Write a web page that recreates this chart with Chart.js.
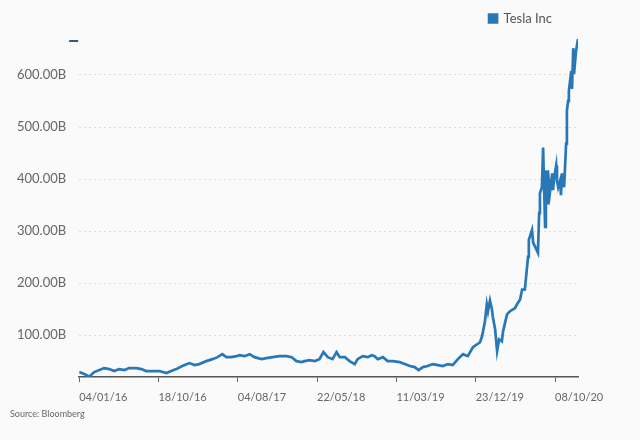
<!DOCTYPE html>
<html><head><meta charset="utf-8">
<script src="https://cdn.jsdelivr.net/npm/chart.js@4.4.1/dist/chart.umd.min.js"></script>
<style>html,body{margin:0;padding:0;background:#fafafa;}#wrap{width:640px;height:440px;position:relative;}</style>
</head><body><div id="wrap"><canvas id="c"></canvas></div>
<script>
const seriesName = 'Tesla Inc';
const sourceText = 'Source: Bloomberg';
const tradingDay = [0,13,25,38,51,63,76,88,101,114,126,144,157,169,184,202,220,232,245,260,278,291,303,321,336,349,361,371,384,397,404,417,430,442,460,472,488,505,523,536,548,561,568,581,594,606,616,627,639,649,657,670,682,695,702,715,728,738,745,753,766,778,791,808,821,834,846,856,867,879,892,905,917,930,942,955,968,980,993,1011,1016,1023,1028,1031,1036,1041,1043,1049,1054,1059,1066,1069,1079,1086,1094,1099,1104,1107,1112,1117,1124,1132,1134,1142,1145,1150,1157,1160,1162,1167,1170,1175,1177,1180,1182,1187,1193,1195,1198,1203,1205,1208,1213,1215,1218,1223,1228,1230,1233,1235,1241,1243,1246,1248,1253,1258];
const marketCapB = [29.4,25.6,20.5,29.4,33.2,37.0,35.1,31.3,35.1,33.2,37.0,37.0,35.1,31.3,31.3,31.3,27.5,31.3,35.1,40.9,46.6,42.8,44.7,50.4,54.2,58.0,63.7,58.0,58.0,59.9,61.8,59.9,63.7,58.0,54.2,56.1,58.0,59.9,59.9,58.0,50.4,48.5,50.4,52.3,50.4,54.2,67.6,58.0,54.2,67.6,58.0,58.0,50.4,44.7,54.2,59.9,58.0,61.8,59.9,54.2,58.0,50.4,50.4,48.5,44.7,40.9,38.9,33.2,38.9,40.9,44.7,42.8,40.9,44.7,42.8,54.2,63.7,59.9,77.1,86.6,98.1,124.8,159.1,145.8,166.8,149.6,136.3,111.4,69.5,92.4,88.6,107.6,140.1,145.8,149.6,152.0,159.1,163.0,168.7,187.8,188.0,250.7,283.2,302.2,277.4,269.8,258.4,334.7,372.8,384.3,460.6,308.0,416.7,353.8,416.7,372.8,411.0,378.6,403.4,426.3,397.6,384.3,397.6,369.0,411.0,384.3,468.2,531.2,550.3,569.4,607.5,573.2,651.4,601.8,645.7,669.0];
const tickDays = [0,200,400,600,800,1000,1200];
const tickLabels = ['04/01/16','18/10/16','04/08/17','22/05/18','11/03/19','23/12/19','08/10/20'];
const yTickValues = [100,200,300,400,500,600];

const points = tradingDay.map((d,i)=>({x:d,y:marketCapB[i]}));
const lineColor = '#2878b8';
const fontFam = 'Lato, "Open Sans", sans-serif';

const dashMark = {
  id:'dashMark',
  beforeLayout(chart){
    const lg = chart.legend;
    if (lg && !lg._patchedFit){
      const orig = lg.fit;
      lg.fit = function(){ orig.call(this); this.height += 4; };
      lg._patchedFit = true;
    }
  },
  afterDraw(chart){
    const {ctx, chartArea} = chart;
    ctx.save();
    ctx.fillStyle = '#3d5870';
    ctx.fillRect(chartArea.left-10, chartArea.top+1, 9, 2);
    ctx.restore();
  }
};

new Chart(document.getElementById('c'), {
  type:'line',
  data:{datasets:[{label:seriesName,data:points,borderColor:lineColor,backgroundColor:lineColor,borderWidth:2.7,pointRadius:0,tension:0,fill:false}]},
  options:{
    responsive:true, maintainAspectRatio:false, animation:false,
    layout:{padding:{left:10,right:62,top:-14,bottom:21}},
    plugins:{
      legend:{position:'top',align:'end',labels:{boxWidth:8,boxHeight:8,color:'#555',font:{family:fontFam,size:13},padding:26}},
      title:{display:true,text:sourceText,position:'bottom',align:'start',color:'#666',font:{family:fontFam,size:9,weight:'normal'},padding:{top:0,bottom:0}},
      tooltip:{enabled:false}
    },
    scales:{
      x:{type:'linear',min:0,max:1258,
        afterBuildTicks(s){s.ticks=tickDays.map(v=>({value:v}));},
        afterFit(s){s.height -= 5;},
        ticks:{autoSkip:false,maxRotation:0,align:'start',color:'#666',font:{family:fontFam,size:11},padding:9,
          callback:(v)=>tickLabels[tickDays.indexOf(v)]},
        grid:{drawOnChartArea:false,drawTicks:true,tickLength:5,color:'#666'},
        border:{display:true,color:'#555',width:1.5}
      },
      y:{type:'linear',min:19.9,max:669,
        afterBuildTicks(s){s.ticks=yTickValues.map(v=>({value:v}));},
        afterFit(s){s.width -= 6;},
        ticks:{color:'#666',font:{family:fontFam,size:13},padding:13,callback:(v)=>v.toFixed(2)+'B'},
        grid:{drawTicks:false,color:'#dcdcdc',lineWidth:1},
        border:{display:false,dash:[2,3]}
      }
    }
  },
  plugins:[dashMark]
});
</script></body></html>
